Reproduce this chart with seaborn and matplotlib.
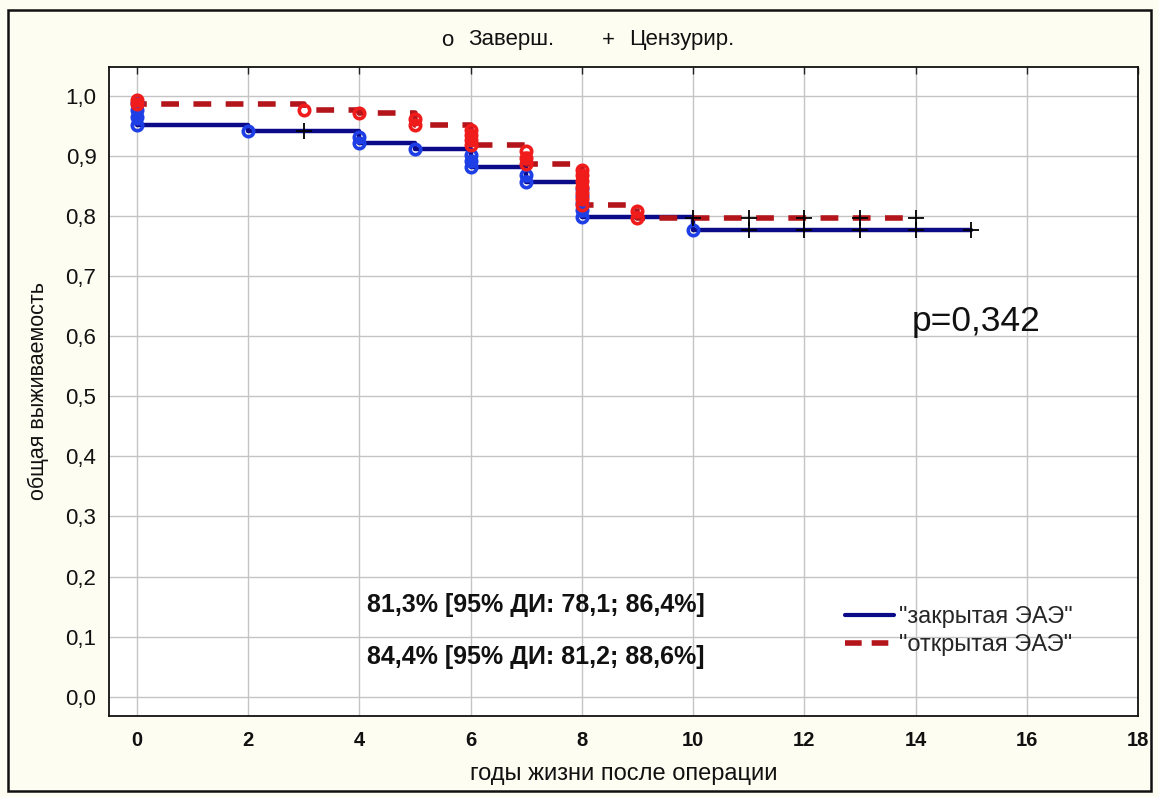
import numpy as np
import pandas as pd
import matplotlib
matplotlib.use("Agg")
import matplotlib.pyplot as plt
from matplotlib.lines import Line2D
from matplotlib.patches import Rectangle
import seaborn as sns

# ---------------- data ----------------
group_labels = ['"закрытая ЭАЭ"', '"открытая ЭАЭ"']

closed_times = [0, 2, 4, 5, 6, 7, 8, 10]
closed_surv = [0.952, 0.942, 0.921, 0.912, 0.881, 0.856, 0.798, 0.777]
closed_events = [4, 1, 2, 1, 3, 2, 5, 1]
closed_censored = [3, 11, 12, 13, 14, 15]

open_times = [0, 3, 4, 5, 6, 7, 8, 9]
open_surv = [0.986, 0.977, 0.971, 0.952, 0.918, 0.887, 0.819, 0.797]
open_events = [2, 1, 1, 2, 4, 3, 7, 2]
open_censored = [10, 11, 12, 13, 14]

x_ticks = [0, 2, 4, 6, 8, 10, 12, 14, 16, 18]
y_ticks = [0.0, 0.1, 0.2, 0.3, 0.4, 0.5, 0.6, 0.7, 0.8, 0.9, 1.0]

annot_lines = ["81,3% [95% ДИ: 78,1; 86,4%]", "84,4% [95% ДИ: 81,2; 88,6%]"]
p_text = "p=0,342"
header_items = [("o", "Заверш."), ("+", "Цензурир.")]
x_label = "годы жизни после операции"
y_label = "общая выживаемость"

# ---------------- style ----------------
sns.set_theme(style="white")
plt.rcParams["font.family"] = ["Liberation Sans", "DejaVu Sans"]

BLUE_LINE = "#0b0b8a"
BLUE_MARK = "#1f3fe6"
RED_LINE = "#b3151b"
RED_MARK = "#f01c1c"
FIG_BG = "#fdfdf1"

W, H = 1159, 797
fig = plt.figure(figsize=(W / 100, H / 100), dpi=100, facecolor=FIG_BG)
ax = fig.add_axes([109 / W, 1 - 716 / H, (1138 - 109) / W, (716 - 67) / H])
ax.set_facecolor("white")


def step_frame(times, surv, end):
    t = [0.0] + list(times) + [end]
    s = [1.0] + list(surv) + [surv[-1]]
    return pd.DataFrame({"t": t, "s": s})


def level_at(times, surv, x):
    idx = np.searchsorted(times, x, side="right") - 1
    return 1.0 if idx < 0 else surv[idx]


series = [
    (closed_times, closed_surv, closed_events, closed_censored, BLUE_LINE, BLUE_MARK, 3.2, ""),
    (open_times, open_surv, open_events, open_censored, RED_LINE, RED_MARK, 4.0, (3.2, 2.6)),
]

for i, (times, surv, events, cens, lc, mc, lw, dash) in enumerate(series):
    end = max(cens) if cens else times[-1]
    df = step_frame(times, surv, end)
    sns.lineplot(data=df, x="t", y="s", ax=ax, color=lc, linewidth=lw,
                 drawstyle="steps-post", estimator=None, sort=False,
                 legend=False, zorder=3 + i)
    if dash:
        ax.get_lines()[-1].set_dashes(dash)
    # event circles (one per event along each drop)
    prev = 1.0
    for t, s, d in zip(times, surv, events):
        lv = [prev - (prev - s) * k / d for k in range(1, d + 1)]
        ax.vlines(t, s, lv[0], color=mc, lw=5, zorder=4 + i)
        ax.plot([t] * d, lv, "o", mfc="none", mec=mc, mew=2.6, ms=7.5, zorder=5 + i)
        prev = s
    # censored marks
    cy = [level_at(times, surv, c) for c in cens]
    ax.plot(cens, cy, "+", color="black", ms=11, mew=1.3, zorder=7)

# ---------------- axes ----------------
ax.set_xlim(-0.5, 18.0)
ax.set_ylim(-0.032, 1.048)
ax.set_xticks(x_ticks)
ax.set_yticks(y_ticks)
ax.set_xticklabels([str(v) for v in x_ticks], fontsize=14.5, fontweight="bold", color="#111111")
ax.set_yticklabels([f"{v:.1f}".replace(".", ",") for v in y_ticks], fontsize=16, color="#111111")
ax.tick_params(axis="x", direction="in", length=5, width=1, pad=11, top=True, color="#222222")
ax.tick_params(axis="y", direction="in", length=5, width=1, pad=9, color="#222222")
ax.grid(True, color="#c4c4c4", linewidth=1.0)
ax.set_axisbelow(True)
for sp in ax.spines.values():
    sp.set_color("#111111")
    sp.set_linewidth(1.3)

ax.set_xlabel(x_label, fontsize=17, color="#111111", labelpad=9)
ax.set_ylabel(y_label, fontsize=15.5, color="#111111", labelpad=12)

# annotations
ax.text(4.14, 0.152, annot_lines[0], fontsize=18, fontweight="bold", va="center", ha="left", color="#111111")
ax.text(4.14, 0.066, annot_lines[1], fontsize=18, fontweight="bold", va="center", ha="left", color="#111111")
ax.text(13.94, 0.609, p_text, fontsize=25.5, va="baseline", ha="left", color="#111111")

# legend
handles = [Line2D([], [], color=BLUE_LINE, lw=3),
           Line2D([], [], color=RED_LINE, lw=4, dashes=(3.0, 1.8))]
ax.legend(handles, group_labels, loc="center left", bbox_to_anchor=(0.715, 0.131),
          frameon=False, fontsize=17, handlelength=2.1, handletextpad=0.2,
          labelspacing=0.25, borderpad=0, borderaxespad=0)

# header legend
hy = 1 - 40 / H
fig.text(447 / W, hy, header_items[0][0], ha="center", va="center", fontsize=16, color="#111111")
fig.text(468 / W, hy, header_items[0][1], ha="left", va="center", fontsize=16, color="#111111")
fig.text(608 / W, hy, header_items[1][0], ha="center", va="center", fontsize=16, color="#111111")
fig.text(629 / W, hy, header_items[1][1], ha="left", va="center", fontsize=16, color="#111111")

# outer frame
fig.add_artist(Rectangle((8 / W, 1 - 791 / H), (1151 - 8) / W, (791 - 10) / H,
                         transform=fig.transFigure, fill=False, edgecolor="#111111", lw=1.8))

fig.savefig("out.png", dpi=100, facecolor=FIG_BG)
